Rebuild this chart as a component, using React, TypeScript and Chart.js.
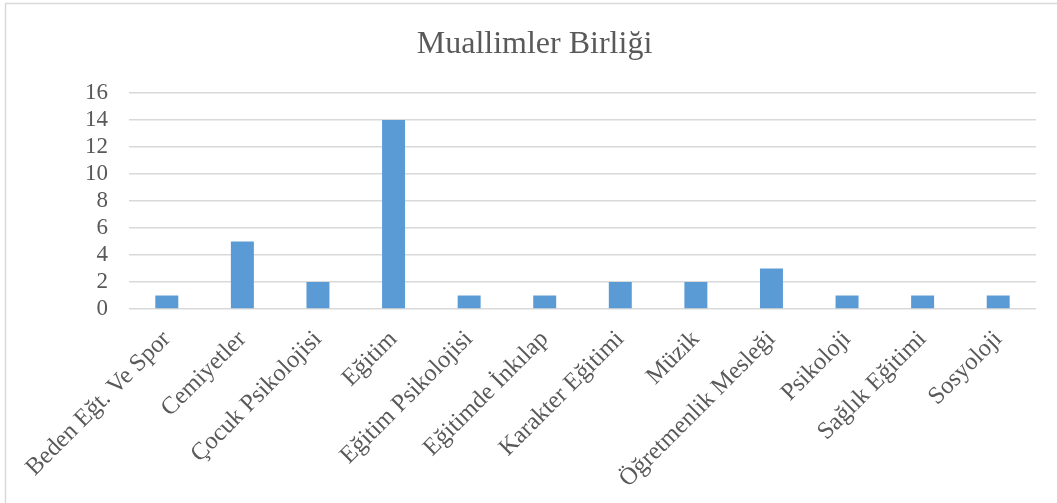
import React, { useEffect, useRef } from "react";
import { Chart, registerables } from "chart.js";

Chart.register(...registerables);

const categories = [
  "Beden Eğt. Ve Spor",
  "Cemiyetler",
  "Çocuk Psikolojisi",
  "Eğitim",
  "Eğitim Psikolojisi",
  "Eğitimde İnkılap",
  "Karakter Eğitimi",
  "Müzik",
  "Öğretmenlik Mesleği",
  "Psikoloji",
  "Sağlık Eğitimi",
  "Sosyoloji",
];
const values = [1, 5, 2, 14, 1, 1, 2, 2, 3, 1, 1, 1];
const chartTitle = "Muallimler Birliği";
const yMin = 0;
const yMax = 16;
const yStep = 2;

const FONT = "'Liberation Serif', 'Times New Roman', serif";
const TEXT = "#595959";
const GRID = "#d9d9d9";

const framePlugin = {
  id: "frameAndTitle",
  beforeDraw(chart: any) {
    const ctx = chart.ctx;
    ctx.save();
    ctx.fillStyle = "#ffffff";
    ctx.fillRect(0, 0, chart.width, chart.height);
    ctx.strokeStyle = GRID;
    ctx.lineWidth = 1.5;
    ctx.strokeRect(5.5, 3.5, chart.width + 10, chart.height + 10);
    ctx.restore();
  },
  afterDraw(chart: any) {
    const ctx = chart.ctx;
    ctx.save();
    ctx.fillStyle = TEXT;
    ctx.font = `normal 32px ${FONT}`;
    ctx.textAlign = "center";
    ctx.textBaseline = "alphabetic";
    ctx.fillText(chartTitle, 534.5, 53);
    ctx.restore();
  },
};

export default function App() {
  const ref = useRef<HTMLCanvasElement | null>(null);
  useEffect(() => {
    if (!ref.current) return;
    const chart = new Chart(ref.current, {
      type: "bar",
      data: {
        labels: categories,
        datasets: [
          {
            data: values,
            backgroundColor: "#5B9BD5",
            borderWidth: 0,
            barPercentage: 0.304,
            categoryPercentage: 1,
          },
        ],
      },
      options: {
        responsive: false,
        animation: false,
        layout: { padding: { left: 0, right: 21, top: 93, bottom: 0 } },
        plugins: {
          legend: { display: false },
          tooltip: { enabled: false },
          title: { display: false },
        },
        scales: {
          x: {
            grid: { display: false },
            border: { display: false },
            ticks: {
              color: TEXT,
              font: { family: FONT, size: 24.5 },
              minRotation: 45,
              maxRotation: 45,
              autoSkip: false,
              padding: 8,
            },
            afterFit: (s: any) => {
              s.height = 194;
            },
          },
          y: {
            min: yMin,
            max: yMax,
            grid: { color: GRID, lineWidth: 1.5, drawTicks: false },
            border: { display: false },
            ticks: {
              stepSize: yStep,
              autoSkip: false,
              color: TEXT,
              font: { family: FONT, size: 23 },
              padding: 21,
            },
            afterFit: (s: any) => {
              s.width = 129;
            },
          },
        },
      },
      plugins: [framePlugin],
    });
    return () => chart.destroy();
  }, []);
  return (
    <div style={{ position: "absolute", left: 0, top: 0, width: 1057, height: 503 }}>
      <canvas ref={ref} width={1057} height={503} style={{ width: 1057, height: 503 }} />
    </div>
  );
}
